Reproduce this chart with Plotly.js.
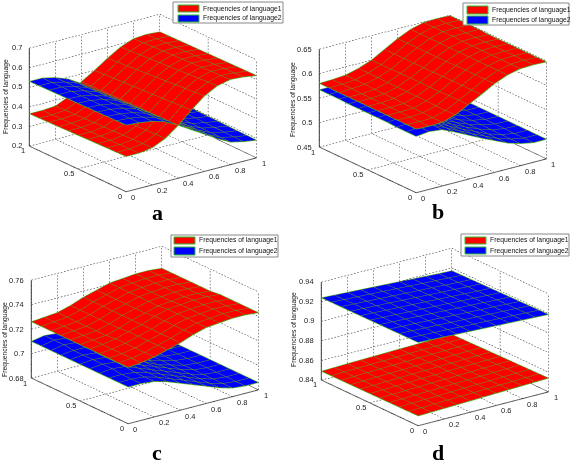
<!DOCTYPE html>
<html><head><meta charset="utf-8">
<script src="https://cdn.plot.ly/plotly-3.0.1.min.js"></script>
<style>html,body{margin:0;padding:0;background:#fff}#c{width:572px;height:461px}</style>
</head><body><div id="c"></div>
<script>
const gridX=[0,.1,.2,.3,.4,.5,.6,.7,.8,.9,1];
const gridY=[0,.1,.2,.3,.4,.5,.6,.7,.8,.9,1];
const xTicks=[0,.2,.4,.6,.8,1];
const yTicks=[0,.5,1];
const zTicksA=[.2,.3,.4,.5,.6,.7];
const zTicksB=[.45,.5,.55,.6,.65];
const zTicksC=[.68,.7,.72,.74,.76];
const zTicksD=[.84,.86,.88,.9,.92,.94];
const seriesNames=["Frequencies of language1","Frequencies of language2"];
const zTitle="Frequencies of language";

const a1=[
[.380,.380,.390,.420,.470,.530,.585,.620,.635,.630,.620],
[.378,.378,.388,.418,.469,.527,.581,.616,.632,.628,.619],
[.377,.377,.386,.416,.468,.524,.577,.613,.630,.627,.618],
[.375,.375,.384,.414,.467,.521,.573,.609,.627,.625,.617],
[.374,.374,.382,.412,.466,.518,.569,.606,.625,.624,.616],
[.372,.372,.380,.410,.465,.515,.565,.602,.622,.622,.615],
[.371,.371,.378,.408,.464,.512,.561,.599,.620,.621,.614],
[.369,.369,.376,.406,.463,.509,.557,.595,.617,.619,.613],
[.368,.368,.374,.404,.462,.506,.553,.592,.615,.618,.612],
[.366,.366,.372,.402,.461,.503,.549,.588,.612,.616,.611],
[.365,.365,.370,.400,.460,.500,.545,.585,.610,.615,.610]];
const a2=[
[.540,.535,.525,.505,.470,.430,.390,.350,.315,.300,.290],
[.539,.535,.524,.504,.468,.428,.388,.349,.316,.301,.291],
[.538,.534,.523,.502,.466,.426,.386,.348,.316,.302,.292],
[.537,.534,.522,.501,.464,.424,.384,.347,.317,.303,.293],
[.536,.533,.521,.499,.462,.422,.382,.346,.317,.304,.294],
[.535,.533,.520,.498,.460,.420,.380,.345,.318,.305,.295],
[.534,.532,.519,.496,.458,.418,.378,.344,.318,.306,.296],
[.533,.532,.518,.495,.456,.416,.376,.343,.319,.307,.297],
[.532,.531,.517,.493,.454,.414,.374,.342,.319,.308,.298],
[.531,.531,.516,.492,.452,.412,.372,.341,.320,.309,.299],
[.530,.530,.515,.490,.450,.410,.370,.340,.320,.310,.300]];
const b1=[
[.580,.579,.580,.588,.602,.616,.631,.642,.648,.649,.648],
[.580,.579,.580,.588,.602,.616,.631,.642,.648,.649,.648],
[.580,.579,.581,.588,.602,.616,.631,.642,.648,.649,.648],
[.580,.580,.581,.589,.601,.616,.631,.642,.648,.649,.648],
[.580,.580,.581,.589,.601,.616,.631,.642,.648,.649,.648],
[.580,.580,.582,.589,.601,.615,.630,.642,.648,.649,.648],
[.580,.580,.582,.589,.601,.615,.630,.642,.648,.649,.648],
[.580,.580,.582,.589,.601,.615,.630,.642,.649,.649,.649],
[.580,.581,.583,.590,.600,.615,.630,.642,.649,.650,.649],
[.580,.581,.583,.590,.600,.615,.630,.642,.649,.650,.649],
[.580,.581,.583,.590,.600,.615,.630,.642,.649,.650,.649]];
const b2=[
[.565,.568,.565,.553,.540,.527,.515,.503,.495,.490,.490],
[.565,.568,.565,.553,.540,.527,.515,.503,.495,.490,.490],
[.565,.568,.565,.553,.540,.527,.515,.503,.495,.490,.490],
[.566,.568,.565,.554,.540,.527,.515,.504,.495,.491,.490],
[.566,.568,.565,.554,.540,.527,.515,.504,.496,.491,.490],
[.566,.567,.565,.554,.540,.527,.515,.504,.496,.491,.490],
[.566,.567,.565,.554,.540,.527,.515,.504,.496,.491,.490],
[.566,.567,.565,.554,.540,.527,.515,.504,.496,.491,.490],
[.567,.567,.565,.555,.540,.527,.515,.505,.497,.492,.490],
[.567,.567,.565,.555,.540,.527,.515,.505,.497,.492,.490],
[.567,.567,.565,.555,.540,.527,.515,.505,.497,.492,.490]];
const c1=[
[.726,.727,.729,.732,.735,.739,.742,.743,.744,.744,.743],
[.726,.727,.729,.732,.735,.739,.742,.743,.744,.744,.743],
[.726,.727,.729,.732,.735,.739,.742,.743,.744,.744,.743],
[.726,.727,.729,.732,.735,.739,.742,.743,.744,.744,.743],
[.726,.727,.729,.732,.735,.739,.742,.743,.744,.744,.743],
[.726,.727,.728,.731,.735,.738,.741,.742,.743,.743,.742],
[.726,.727,.728,.731,.735,.738,.741,.742,.743,.743,.742],
[.726,.727,.728,.731,.735,.738,.741,.742,.743,.743,.742],
[.726,.727,.728,.731,.735,.738,.741,.742,.743,.743,.742],
[.726,.727,.728,.731,.735,.738,.741,.742,.743,.743,.742],
[.726,.727,.728,.731,.735,.738,.741,.742,.743,.743,.742]];
const c2=[
[.710,.710,.709,.706,.702,.698,.694,.690,.687,.686,.686],
[.710,.710,.709,.706,.702,.698,.694,.690,.687,.686,.686],
[.710,.710,.709,.706,.702,.698,.694,.690,.687,.686,.686],
[.710,.711,.710,.706,.702,.698,.694,.690,.687,.686,.686],
[.710,.711,.710,.706,.702,.698,.694,.690,.687,.686,.686],
[.710,.711,.710,.707,.702,.698,.693,.690,.687,.686,.686],
[.710,.711,.710,.707,.702,.698,.693,.690,.687,.686,.686],
[.710,.711,.711,.707,.702,.697,.693,.690,.687,.686,.686],
[.710,.712,.711,.707,.702,.697,.693,.690,.687,.686,.686],
[.710,.712,.711,.707,.702,.697,.693,.690,.687,.686,.686],
[.710,.712,.711,.707,.702,.697,.693,.690,.687,.686,.686]];
const d1=[
[.8500,.8504,.8508,.8512,.8516,.8520,.8524,.8528,.8532,.8536,.8540],
[.8499,.8503,.8507,.8511,.8515,.8519,.8523,.8527,.8530,.8534,.8538],
[.8498,.8502,.8506,.8510,.8514,.8518,.8522,.8525,.8529,.8532,.8536],
[.8497,.8501,.8505,.8509,.8513,.8517,.8520,.8524,.8527,.8531,.8534],
[.8496,.8500,.8504,.8508,.8512,.8516,.8519,.8522,.8526,.8529,.8532],
[.8495,.8499,.8503,.8507,.8511,.8514,.8518,.8521,.8524,.8527,.8530],
[.8494,.8498,.8502,.8506,.8510,.8513,.8516,.8519,.8522,.8525,.8528],
[.8493,.8497,.8501,.8505,.8508,.8511,.8514,.8517,.8520,.8523,.8526],
[.8492,.8496,.8500,.8504,.8507,.8510,.8513,.8516,.8518,.8521,.8524],
[.8491,.8495,.8499,.8502,.8505,.8508,.8511,.8514,.8516,.8519,.8522],
[.8490,.8494,.8498,.8501,.8504,.8507,.8510,.8512,.8515,.8517,.8520]];
const d2=[
[.9250,.9244,.9238,.9232,.9226,.9220,.9214,.9208,.9202,.9196,.9190],
[.9249,.9243,.9237,.9231,.9225,.9219,.9213,.9206,.9200,.9194,.9188],
[.9248,.9242,.9236,.9230,.9224,.9218,.9211,.9205,.9199,.9192,.9186],
[.9247,.9241,.9235,.9229,.9223,.9216,.9210,.9203,.9197,.9190,.9184],
[.9246,.9240,.9234,.9228,.9221,.9215,.9208,.9202,.9195,.9188,.9182],
[.9245,.9239,.9233,.9226,.9220,.9213,.9207,.9200,.9193,.9186,.9180],
[.9244,.9238,.9232,.9225,.9219,.9212,.9205,.9198,.9191,.9184,.9178],
[.9243,.9237,.9230,.9224,.9217,.9210,.9203,.9196,.9189,.9182,.9176],
[.9242,.9236,.9229,.9222,.9215,.9208,.9201,.9194,.9187,.9180,.9174],
[.9241,.9235,.9228,.9221,.9214,.9207,.9199,.9192,.9185,.9178,.9172],
[.9240,.9233,.9226,.9219,.9212,.9205,.9197,.9190,.9183,.9175,.9170]];

const W=572,H=461,DW=270,DH=200;
const panels=[
 {id:'scene', cx:143,  cy:102.5,z:[a1,a2],zt:zTicksA,letter:'a',lx:158,ly:212,tx:6,ty:97,leg:[173,2,283,23,178,5,199,12,15,22]},
 {id:'scene2',cx:432.5,cy:104,  z:[b1,b2],zt:zTicksB,letter:'b',lx:438,ly:211,tx:293,ty:99,leg:[463,3,569,25,467,6,488,14,16,24]},
 {id:'scene3',cx:145,  cy:335,  z:[c1,c2],zt:zTicksC,letter:'c',lx:157,ly:452,tx:5,ty:340,leg:[171,235,278,257,174,237,195,244,247,255]},
 {id:'scene4',cx:435,  cy:336.5,z:[d1,d2],zt:zTicksD,letter:'d',lx:438,ly:452,tx:294,ty:330,leg:[461,234,569,256,465,237,486,244,247,254]}
];
const colors=['#ff0000','#0000ff'];
const R=2, eye={x:-.558*R,y:-.752*R,z:.35*R};
const traces=[],shapes=[],annos=[],layout={};
const px=v=>v/W, py=v=>1-v/H;
const tickFont={family:'Liberation Sans, Arial, sans-serif',size:7.5,color:'#222'};

panels.forEach(p=>{
 const z0=p.zt[0],z1=p.zt[p.zt.length-1],pad=(z1-z0)*.002;
 const off={scene:p.id,hoverinfo:'skip',showlegend:false};
 const line3=(xs,ys,zs,color,width)=>traces.push({...off,type:'scatter3d',mode:'lines',x:xs,y:ys,z:zs,line:{color,width},connectgaps:false});
 const gx=[],gy=[],gz=[];
 const seg=(A,B,n)=>{for(let k=0;k<n;k++){const f=k/n,g=(k+.5)/n;
   gx.push(A[0]+(B[0]-A[0])*f,A[0]+(B[0]-A[0])*g,null);
   gy.push(A[1]+(B[1]-A[1])*f,A[1]+(B[1]-A[1])*g,null);
   gz.push(A[2]+(B[2]-A[2])*f,A[2]+(B[2]-A[2])*g,null);}};
 xTicks.forEach(t=>{seg([t,0,z0],[t,1,z0],34);seg([t,1,z0],[t,1,z1],30);});
 yTicks.forEach(t=>{seg([0,t,z0],[1,t,z0],40);seg([1,t,z0],[1,t,z1],30);});
 p.zt.forEach(t=>{seg([0,1,t],[1,1,t],40);seg([1,1,t],[1,0,t],34);});
 seg([0,1,z0],[0,1,z1],30);
 line3(gx,gy,gz,'#222',1);
 line3([0,1],[0,0],[z0,z0],'#666',2);
 line3([0,0],[0,1],[z0,z0],'#666',2);
 line3([0,0],[1,1],[z0,z1],'#666',2.5);
 p.z.forEach((m,i)=>{
  traces.push({...off,type:'surface',x:gridX,y:gridY,z:m,showscale:false,name:seriesNames[i],
   colorscale:[[0,colors[i]],[1,colors[i]]],
   lighting:{ambient:1,diffuse:0,specular:0,fresnel:0,roughness:1},
   contours:{
    x:{show:true,start:0,end:1,size:.1,color:'#5f9a20',width:2,highlight:false},
    y:{show:true,start:0,end:1,size:.1,color:'#5f9a20',width:2,highlight:false},
    z:{show:false,highlight:false}}});
  const last=m.length-1;
  line3(gridX,gridX.map(()=>0),m[0],'#20e020',1.5);
  line3(gridX,gridX.map(()=>1),m[last],'#20e020',1.5);
  line3(gridY.map(()=>0),gridY,m.map(r=>r[0]),'#20e020',1.5);
  line3(gridY.map(()=>1),gridY,m.map(r=>r[r.length-1]),'#20e020',1.5);
 });
 const ax={showgrid:false,showline:false,zeroline:false,showticklabels:false,showbackground:false,showspikes:false,ticks:'',title:{text:''}};
 const an=[];
 p.zt.forEach(t=>an.push({x:0,y:1,z:t,text:String(t),showarrow:false,xanchor:'right',xshift:-5,yshift:0,font:tickFont}));
 xTicks.forEach(t=>an.push({x:t,y:0,z:z0,text:String(t),showarrow:false,xanchor:'left',xshift:3,yshift:-6,font:tickFont}));
 yTicks.forEach(t=>an.push({x:0,y:t,z:z0,text:String(t),showarrow:false,xanchor:'right',xshift:-2,yshift:-5,font:tickFont}));
 layout[p.id]={
  domain:{x:[(p.cx-DW/2)/W,(p.cx+DW/2)/W],y:[1-(p.cy+DH/2)/H,1-(p.cy-DH/2)/H]},
  xaxis:{...ax,range:[-.002,1.002]},yaxis:{...ax,range:[-.002,1.002]},zaxis:{...ax,range:[z0-pad,z1+pad]},
  aspectmode:'manual',aspectratio:{x:1.63,y:1.63,z:1.05},
  camera:{eye,center:{x:0,y:0,z:0},up:{x:0,y:0,z:1},projection:{type:'orthographic'}},
  annotations:an,dragmode:false};
 const L=p.leg;
 shapes.push({type:'rect',xref:'paper',yref:'paper',x0:px(L[0]),x1:px(L[2]),y0:py(L[3]),y1:py(L[1]),line:{color:'#888',width:1},fillcolor:'#fff',layer:'above'});
 shapes.push({type:'rect',xref:'paper',yref:'paper',x0:px(L[4]),x1:px(L[6]),y0:py(L[7]),y1:py(L[5]),line:{color:'#30c030',width:1},fillcolor:colors[0],layer:'above'});
 shapes.push({type:'rect',xref:'paper',yref:'paper',x0:px(L[4]),x1:px(L[6]),y0:py(L[9]),y1:py(L[8]),line:{color:'#30c030',width:1},fillcolor:colors[1],layer:'above'});
 const tf={family:'Liberation Sans, Arial, sans-serif',size:6.8,color:'#111'};
 seriesNames.forEach((s,i)=>annos.push({xref:'paper',yref:'paper',x:px(L[6]+2),y:py(i?(L[8]+L[9])/2:(L[5]+L[7])/2),text:s,showarrow:false,xanchor:'left',yanchor:'middle',font:tf}));
 annos.push({xref:'paper',yref:'paper',x:px(p.tx),y:py(p.ty),text:zTitle,textangle:-90,showarrow:false,xanchor:'center',yanchor:'middle',font:{family:'Liberation Sans, Arial, sans-serif',size:6.8,color:'#111'}});
 annos.push({xref:'paper',yref:'paper',x:px(p.lx),y:py(p.ly),text:'<b>'+p.letter+'</b>',showarrow:false,xanchor:'center',yanchor:'middle',font:{family:'Liberation Serif, Times New Roman, serif',size:22,color:'#000'}});
});
Object.assign(layout,{width:W,height:H,margin:{l:0,r:0,t:0,b:0},paper_bgcolor:'#fff',showlegend:false,shapes,annotations:annos});
Plotly.newPlot('c',traces,layout,{displayModeBar:false});
</script></body></html>
